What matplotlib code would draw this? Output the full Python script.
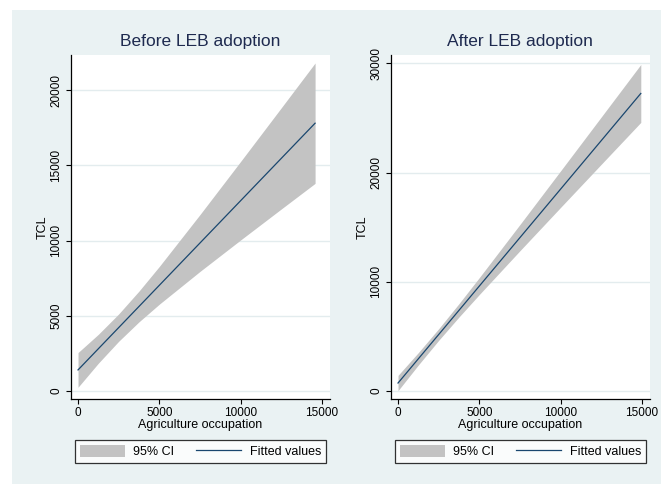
import matplotlib
matplotlib.use("Agg")
import matplotlib.pyplot as plt
from matplotlib.patches import Patch, Rectangle
from matplotlib.lines import Line2D

plt.rcParams['font.family'] = ['Liberation Sans', 'DejaVu Sans']

# Before LEB adoption: fitted line and 95% CI band
before_x = [0, 1250, 2500, 3750, 5000, 7500, 10000, 12500, 14575]
before_fit = [1400, 2807, 4213, 5620, 7026, 9839, 12652, 15465, 17800]
before_hi = [2553, 3767, 5122, 6642, 8281, 11729, 15263, 18829, 21800]
before_lo = [247, 1847, 3304, 4598, 5771, 7949, 10041, 12101, 13800]

# After LEB adoption
after_x = [0, 1250, 2500, 3750, 5000, 7500, 10000, 12500, 14926]
after_fit = [730, 2950, 5170, 7390, 9611, 14051, 18491, 22931, 27240]
after_hi = [1430, 3516, 5702, 8003, 10386, 15251, 20165, 25097, 29890]
after_lo = [30, 2384, 4638, 6777, 8836, 12851, 16817, 20765, 24590]

xticks = [0, 5000, 10000, 15000]
before_yticks = [0, 5000, 10000, 15000, 20000]
after_yticks = [0, 10000, 20000, 30000]

W, H = 661, 484
fig = plt.figure(figsize=(W / 100, H / 100), dpi=100)
fig.patch.set_facecolor('white')
# graph region background (the picture is cropped, white strip top and left)
bg = Rectangle((12 / W, 0), 1 - 12 / W, (H - 10) / H, transform=fig.transFigure,
               facecolor='#eaf2f3', edgecolor='none', zorder=-10)
fig.add_artist(bg)

band_col = '#c3c3c3'
line_col = '#1a476f'
grid_col = '#e3ecee'
title_col = '#1e2a4f'


def panel(rect, x, lo, hi, fit, yticks, ylim, title):
    ax = fig.add_axes(rect)
    ax.set_facecolor('white')
    ax.fill_between(x, lo, hi, color=band_col, linewidth=0, zorder=2)
    ax.plot(x, fit, color=line_col, lw=0.9, zorder=3)
    ax.set_xlim(-450, 15492)
    ax.set_ylim(*ylim)
    ax.set_xticks(xticks)
    ax.set_yticks(yticks)
    ax.set_axisbelow(True)
    ax.yaxis.grid(True, color=grid_col, lw=1.0)
    for s in ['top', 'right']:
        ax.spines[s].set_visible(False)
    for s in ['left', 'bottom']:
        ax.spines[s].set_color('black')
        ax.spines[s].set_linewidth(0.9)
    ax.tick_params(direction='out', length=3.5, width=0.8, labelsize=8.5, pad=2.5)
    for lab in ax.get_yticklabels():
        lab.set_rotation(90)
        lab.set_va('center')
    ax.set_xlabel('Agriculture occupation', fontsize=9)
    ax.set_ylabel('TCL', fontsize=9)
    ax.xaxis.set_label_coords(0.5, -0.075)
    ax.xaxis.label.set_va('center')
    ax.yaxis.set_label_coords(-0.108, 0.5)
    ax.yaxis.label.set_va('center')
    ax.set_title(title, fontsize=12.5, color=title_col, y=1.038, va='center', pad=0)
    handles = [Patch(facecolor=band_col, edgecolor='none'),
               Line2D([], [], color=line_col, lw=0.9)]
    leg = ax.legend(handles, ['95% CI', 'Fitted values'], loc='upper center',
                    bbox_to_anchor=(0.5, -0.119), ncol=2, fontsize=9,
                    frameon=True, fancybox=False, handlelength=3.6,
                    handleheight=1.05, handletextpad=0.65, columnspacing=1.8,
                    borderpad=0.4, borderaxespad=0)
    leg.get_frame().set_edgecolor('black')
    leg.get_frame().set_linewidth(0.9)
    return ax


panel([70.7 / W, (H - 399) / H, 259.3 / W, 344 / H], before_x, before_lo,
      before_hi, before_fit, before_yticks, (-533, 22333), 'Before LEB adoption')
panel([390.7 / W, (H - 399) / H, 259.3 / W, 344 / H], after_x, after_lo,
      after_hi, after_fit, after_yticks, (-732, 30760), 'After LEB adoption')

fig.savefig('out.png', dpi=100)
